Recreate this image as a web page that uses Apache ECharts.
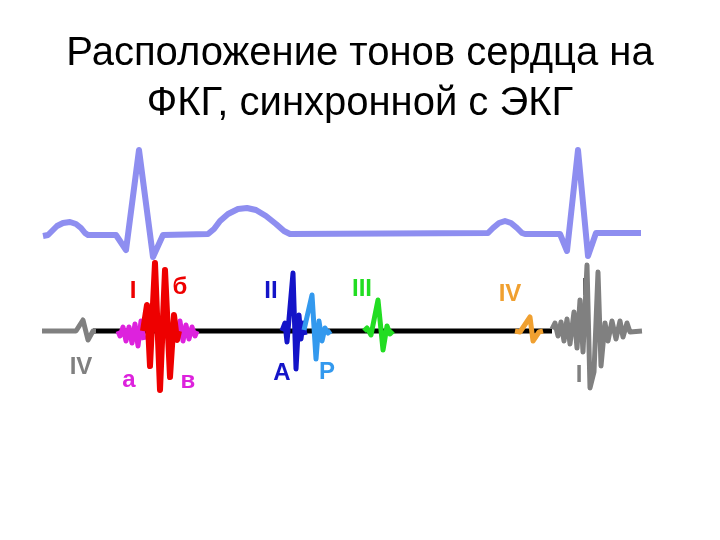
<!DOCTYPE html>
<html><head><meta charset="utf-8">
<script src="https://cdn.jsdelivr.net/npm/echarts@6/dist/echarts.min.js"></script>
<style>html,body{margin:0;padding:0;background:#fff}#c{width:720px;height:540px}</style>
</head><body><div id="c"></div>
<script>
// Title lines
var titleLines = ['Расположение тонов сердца на', 'ФКГ, синхронной с ЭКГ'];

// ECG trace (time, amplitude in drawing units; y grows downward)
var ecg = [[43,236],[48,235],[52,231],[57,226],[63,223],[70,222],[76,224],[81,228],[85,233],[88,235],[116,235],[126,250],[139,150],[153,257],[163,235],[208,234],[214,229],[220,221],[228,214],[238,209],[247,208],[256,210],[266,216],[276,224],[284,231],[290,234],[488,233],[493,228],[499,223],[505,221],[511,223],[517,228],[522,233],[525,234],[560,234],[567,251],[578,150],[588,256],[596,233],[641,233]];

// Phonocardiogram baseline and sound components
var pcgBaseline = [[93,331],[552,331]];
var toneIVprev = [[42,331],[76,331],[83,320],[88,340],[93,331],[96,331]];
var toneIa = [[118,331],[120,336],[123,327],[126,341],[129,327],[132,343],[135,324],[138,346],[141,321],[144,340]];
var toneIb = [[143,331],[147,305],[150,366],[155,263],[160,390],[165,270],[170,377],[174,315],[177,340],[179,331]];
var toneIv = [[178,331],[180,321],[183,341],[186,325],[189,339],[192,327],[195,336],[197,331]];
var toneIIA = [[282,331],[285,323],[287,342],[293,273],[296,369],[299,315],[301,339],[303,323],[305,335]];
var toneIIP = [[304,330],[312,295],[316,359],[319,321],[322,341],[325,328],[328,333],[331,331]];
var toneIII = [[364,331],[367,328],[371,335],[378,300],[383,350],[387,326],[390,334],[393,331]];
var toneIV = [[515,331],[520,332],[530,317],[533,341],[539,332],[543,331]];
var toneInext = [[552,329],[555,323],[558,336],[561,322],[564,341],[567,319],[570,344],[574,312],[577,348],[580,300],[583,352],[587,265],[590,388],[594,372],[598,272],[601,366],[605,323],[608,341],[612,321],[616,339],[620,321],[623,337],[627,323],[630,332],[642,331]];

// Labels: [x, y, text, colourKey]
var labels = [
  [133,291,'I','red'],[180,287,'б','red'],[81,367,'IV','gray'],[129,380,'а','mag'],[188,381,'в','mag'],
  [271,291,'II','dblue'],[362,289,'III','green'],[510,294,'IV','orange'],
  [282,373,'А','dblue'],[327,372,'Р','lblue'],[585,288,'I','black'],[579,375,'I','gray']
];

var colors = {ecg:'#8e8ef0',black:'#000000',gray:'#808080',red:'#ee0000',mag:'#dd22dd',dblue:'#1414c8',lblue:'#3399ee',green:'#22dd22',orange:'#f0a030'};

function line(data, color, w, z){
  return {type:'line', data:data, showSymbol:false, silent:true, z:z,
    lineStyle:{color:color, width:w, join:'round', cap:'butt'}, animation:false};
}
function labelSeries(list, z){
  return {type:'scatter', data:list.map(function(l){return {value:[l[0],l[1]], name:l[2], label:{color:colors[l[3]]}};}),
    symbolSize:0, z:z, silent:true, itemStyle:{opacity:1},
    label:{show:true, opacity:1, position:'inside', formatter:function(p){return p.name;}, fontFamily:'Liberation Sans', fontWeight:'bold', fontSize:24}};
}

var chart = echarts.init(document.getElementById('c'), null, {renderer:'canvas'});
chart.setOption({
  animation:false,
  backgroundColor:'#ffffff',
  title:{text:titleLines.join('\n'), left:'center', top:24,
    textStyle:{fontFamily:'Liberation Sans', fontSize:40, fontWeight:'normal', color:'#000', lineHeight:50}},
  grid:{left:0,right:0,top:0,bottom:0},
  xAxis:{type:'value',min:0,max:720,show:false},
  yAxis:{type:'value',min:0,max:540,inverse:true,show:false},
  series:[
    line(ecg, colors.ecg, 6, 2),
    labelSeries(labels.filter(function(l){return l[3]==='black';}), 1),
    line(pcgBaseline, colors.black, 5, 3),
    line(toneIVprev, colors.gray, 5, 4),
    line(toneIa, colors.mag, 5, 4),
    line(toneIv, colors.mag, 5, 4),
    line(toneIb, colors.red, 6, 5),
    line(toneIIA, colors.dblue, 5, 5),
    line(toneIIP, colors.lblue, 5, 5),
    line(toneIII, colors.green, 5, 5),
    line(toneIV, colors.orange, 5, 5),
    line(toneInext, colors.gray, 5, 5),
    labelSeries(labels.filter(function(l){return l[3]!=='black';}), 6)
  ]
});
</script></body></html>
